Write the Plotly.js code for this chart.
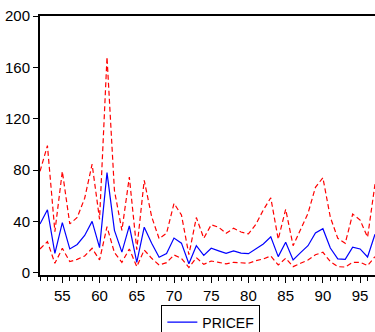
<!DOCTYPE html>
<html>
<head>
<meta charset="utf-8">
<script src="https://cdn.plot.ly/plotly-3.0.1.min.js"></script>
<style>
html,body{margin:0;padding:0;background:#fff;}
#chart{width:375px;height:332px;}
</style>
</head>
<body>
<div id="chart"></div>
<script>
const years = [52,53,54,55,56,57,58,59,60,61,62,63,64,65,66,67,68,69,70,71,72,73,74,75,76,77,78,79,80,81,82,83,84,85,86,87,88,89,90,91,92,93,94,95,96,97];
const pricef = [38,49,15,39,18.5,22,29,40,19.5,78,33,16,36.5,8,35.5,23,12,15,27,23,7,21,13.5,19,17,15,17,15.3,14.8,18.5,22.4,28,12.5,23.7,10,15.6,21,31,34.3,19.2,10.7,10.4,19.8,18.5,12.2,30];
const upperBand = [79,99,32,79,38,43,58,84.5,41.6,168,64,33,74.5,18,72,43.6,26.5,30.7,54,45,14,43,26.8,37.3,35.4,30.7,34.6,31.7,30.2,37.7,48.9,58.4,26,49.4,21,33.3,46.3,66.5,74,43.2,26.8,22.9,45.7,41,27.6,69];
const lowerBand = [18.5,24.2,7.3,19,8.6,10.4,13,19,9.9,35.8,15.6,8.1,18.5,4.7,17.7,11.2,6,7.8,13.8,11.2,4,11.7,6.5,9.1,8.1,6.8,8.1,7.8,7.3,9.4,10.7,13,6,11.2,4.7,7.3,9.9,14,15.9,8.6,4.7,4.4,8.1,8.1,5.5,12.5];
const xTickVals = [55,60,65,70,75,80,85,90,95];
const xTickText = ['55','60','65','70','75','80','85','90','95'];
const yTickVals = [0,40,80,120,160,200];
const yTickText = ['0','40','80','120','160','200'];

const traces = [
  {x: years, y: pricef, type:'scatter', mode:'lines', name:'PRICEF',
   line:{color:'#0000ff', width:1.2}, showlegend:true},
  {x: years, y: upperBand, type:'scatter', mode:'lines', name:'upper',
   line:{color:'#ff0000', width:1.2, dash:'5px,3px'}, showlegend:false},
  {x: years, y: lowerBand, type:'scatter', mode:'lines', name:'lower',
   line:{color:'#ff0000', width:1.2, dash:'5px,3px'}, showlegend:false}
];

const font = {family:'"Liberation Sans", Arial, sans-serif', size:15, color:'#000'};
const layout = {
  width:375, height:332,
  margin:{l:40, r:0, t:16, b:57, pad:0},
  paper_bgcolor:'#fff', plot_bgcolor:'#fff',
  font: font,
  showlegend:true,
  legend:{orientation:'h', x:0.51, xanchor:'center', xref:'paper',
          y:0.08, yref:'container', yanchor:'top',
          bordercolor:'#000', borderwidth:1, bgcolor:'#fff',
          font:{family:'"Liberation Sans", Arial, sans-serif', size:14, color:'#000'}},
  xaxis:{range:[52,97], showgrid:false, zeroline:false,
         showline:true, linecolor:'#000', linewidth:2, mirror:true,
         tickmode:'array', tickvals:xTickVals, ticktext:xTickText,
         ticks:'outside', ticklen:6, tickwidth:1, tickcolor:'#000',
         minor:{dtick:1, tick0:52, ticks:'outside', ticklen:4, tickwidth:1, tickcolor:'#000', showgrid:false},
         tickfont:font},
  yaxis:{range:[-1.8,200], showgrid:false, zeroline:false,
         showline:true, linecolor:'#000', linewidth:2,
         tickmode:'array', tickvals:yTickVals, ticktext:yTickText,
         ticks:'outside', ticklen:5, tickwidth:1, tickcolor:'#000',
         tickfont:font}
};
Plotly.newPlot('chart', traces, layout, {displayModeBar:false, staticPlot:true});
</script>
</body>
</html>
